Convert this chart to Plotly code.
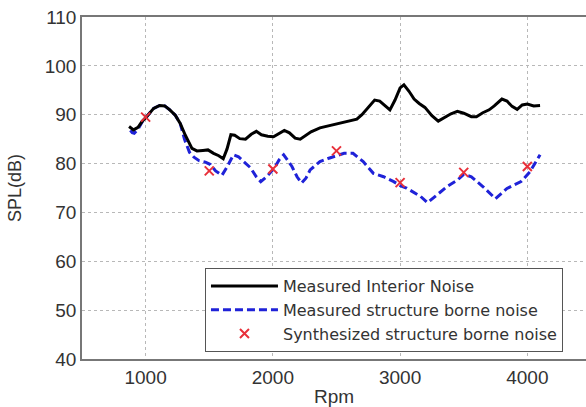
import plotly.graph_objects as go

# Measured interior noise (solid black)
rpm_interior = [870, 905, 940, 972, 1011, 1063, 1110, 1150, 1190, 1233, 1272, 1312, 1364, 1403,
                1450, 1490, 1534, 1575, 1610, 1640, 1670, 1700, 1740, 1785, 1830, 1870, 1910,
                1960, 2005, 2050, 2090, 2130, 2175, 2215, 2260, 2300, 2370, 2450, 2530, 2610,
                2660, 2700, 2740, 2800, 2840, 2880, 2920, 2960, 3000, 3030, 3070, 3110, 3150,
                3195, 3250, 3300, 3350, 3400, 3450, 3500, 3560, 3600, 3650, 3700, 3740, 3800,
                3840, 3880, 3920, 3960, 4000, 4050, 4100]
spl_interior = [87.6, 86.9, 87.4, 88.6, 89.7, 91.3, 91.9, 91.8, 91.0, 89.9, 88.2, 85.8, 83.1, 82.6,
                82.7, 82.8, 82.1, 81.6, 81.0, 83.0, 85.9, 85.8, 85.1, 85.0, 86.0, 86.6, 85.9,
                85.6, 85.5, 86.2, 86.8, 86.3, 85.2, 85.0, 85.8, 86.5, 87.3, 87.8, 88.3, 88.7,
                89.1, 90.0, 91.2, 93.0, 92.8, 91.8, 91.0, 93.0, 95.5, 96.1, 94.8, 93.2, 92.3,
                91.5, 89.8, 88.7, 89.4, 90.2, 90.7, 90.3, 89.6, 89.6, 90.4, 91.0, 91.8, 93.2,
                92.8, 91.7, 91.1, 92.0, 92.2, 91.8, 91.9]

# Measured structure borne noise (blue dashed)
rpm_structure = [880, 895, 910, 940, 972, 1011, 1063, 1110, 1150, 1190, 1233, 1272, 1305, 1345,
                 1380, 1420, 1470, 1510, 1550, 1600, 1640, 1690, 1730, 1770, 1822, 1870, 1905,
                 1950, 2010, 2050, 2085, 2150, 2190, 2225, 2260, 2293, 2370, 2440, 2500, 2560,
                 2630, 2710, 2790, 2870, 2950, 3000, 3050, 3110, 3160, 3215, 3290, 3370, 3450,
                 3500, 3560, 3650, 3750, 3840, 3950, 4020, 4100]
spl_structure = [86.8, 86.3, 86.2, 87.0, 88.5, 89.7, 91.3, 91.9, 91.8, 91.0, 89.9, 88.2, 85.0, 82.3,
                 81.3, 80.6, 80.3, 79.8, 78.5, 77.6, 79.3, 81.8, 81.4, 80.4, 79.2, 77.3, 76.3,
                 77.3, 79.0, 80.8, 81.8, 79.4, 77.3, 76.0, 77.0, 78.7, 80.4, 81.1, 81.6, 82.1,
                 82.1, 80.4, 78.0, 77.3, 76.3, 75.5, 75.0, 74.0, 73.3, 72.0, 73.6, 75.3, 76.6,
                 77.8, 77.3, 75.3, 72.8, 74.9, 76.3, 78.3, 81.8]

# Synthesized structure borne noise (red x markers)
rpm_synth = [1000, 1500, 2000, 2500, 3000, 3500, 4000]
spl_synth = [89.5, 78.5, 78.9, 82.6, 76.1, 78.2, 79.4]

x_ticks = [1000, 2000, 3000, 4000]
y_ticks = [40, 50, 60, 70, 80, 90, 100, 110]

fig = go.Figure()
fig.add_trace(go.Scatter(
    x=rpm_structure, y=spl_structure, mode="lines",
    name="Measured structure borne noise", legendrank=2,
    line=dict(color="#1f22d8", width=3, dash="8px,4px")))
fig.add_trace(go.Scatter(
    x=rpm_interior, y=spl_interior, mode="lines",
    name="Measured Interior Noise", legendrank=1,
    line=dict(color="black", width=3)))
fig.add_trace(go.Scatter(
    x=rpm_synth, y=spl_synth, mode="markers",
    name="Synthesized structure borne noise", legendrank=3,
    marker=dict(symbol="x-thin", size=9, color="#e8303a",
                line=dict(color="#e8303a", width=2))))

font_family = "Liberation Sans, Arial, sans-serif"
fig.update_layout(
    width=586, height=407,
    margin=dict(l=82, r=0, t=17, b=48),
    paper_bgcolor="white", plot_bgcolor="white",
    font=dict(family=font_family, color="#333333", size=19),
    showlegend=True,
    legend=dict(
        x=0.244, y=0.266, xanchor="left", yanchor="top",
        bgcolor="white", bordercolor="#555555", borderwidth=1,
        font=dict(size=16, color="#333333", family="DejaVu Sans, sans-serif"),
        itemwidth=67, tracegroupgap=0,
    ),
)
fig.update_xaxes(
    range=[500, 4461], tickvals=x_ticks, ticktext=[str(v) for v in x_ticks],
    showgrid=True, gridcolor="#b8b8b8", griddash="dot", gridwidth=1,
    showline=True, linecolor="#777777", linewidth=1.5, mirror=True,
    zeroline=False, ticks="", tickfont=dict(size=19),
    title=dict(text="Rpm", font=dict(size=19), standoff=4),
)
fig.update_yaxes(
    range=[40, 110], tickvals=y_ticks, ticktext=[str(v) for v in y_ticks],
    showgrid=True, gridcolor="#b8b8b8", griddash="dot", gridwidth=1,
    showline=True, linecolor="#777777", linewidth=1.5, mirror=False,
    zeroline=False, ticks="", tickfont=dict(size=19),
    title=dict(text="SPL(dB)", font=dict(size=18), standoff=18),
)

fig.write_html("out.html", config={"displayModeBar": False},
               post_script="document.body.style.margin='0px';")
